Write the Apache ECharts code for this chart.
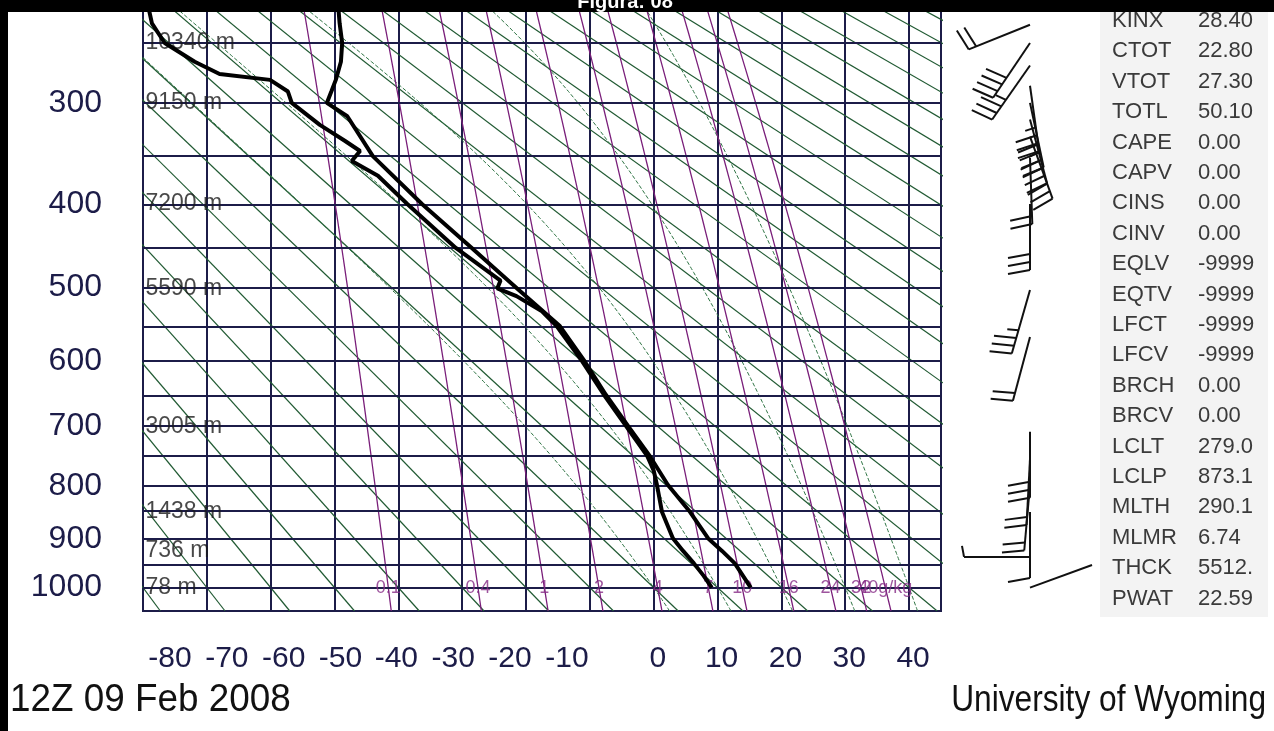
<!DOCTYPE html>
<html>
<head>
<meta charset="utf-8">
<title>Figura 08</title>
<script src="https://cdn.jsdelivr.net/npm/echarts@6/dist/echarts.min.js"></script>
<style>
  html, body { margin: 0; padding: 0; background: #fff; }
  #chart { width: 1274px; height: 731px; }
</style>
</head>
<body>
<div id="chart"></div>
<script>
// ------------------------------
// Sounding data
// ------------------------------
var tempP = [1000, 950, 925, 900, 850, 800, 750, 700, 650, 600, 550, 500, 450, 400, 350, 312, 300, 290, 280, 265, 250, 235, 218];
var tempC = [15.2, 12.7, 10.7, 8.5, 5.7, 2.2, -0.6, -4.0, -7.5, -10.8, -14.7, -21.4, -28.5, -36.3, -44.0, -48.0, -51.2, -50.5, -49.8, -49.0, -48.8, -49.2, -49.5];

var dewpP = [1000, 975, 950, 925, 900, 850, 800, 775, 750, 700, 650, 600, 550, 530, 510, 500, 490, 450, 400, 370, 355, 345, 335, 320, 300, 290, 280, 275, 265, 250, 235, 218];
var dewpC = [9.1, 7.8, 6.3, 4.6, 3.0, 1.3, 0.5, 0.0, -1.0, -4.3, -7.8, -11.2, -15.2, -17.5, -21.5, -24.5, -24.0, -31.0, -38.6, -43.2, -47.3, -46.0, -48.4, -52.3, -56.7, -57.3, -60.1, -68.0, -71.9, -76.6, -78.6, -79.4];

// wind: pressure (hPa), direction (deg), speed (kt)
var windP   = [1000, 937, 850, 800, 755, 709, 565, 502, 400, 352, 331, 315, 300, 285, 268, 250, 236];
var windDir = [70, 270, 180, 185, 183, 180, 195, 196, 180, 178, 160, 165, 168, 172, 215, 214, 248];
var windSpd = [2, 5, 10, 20, 20, 30, 20, 35, 30, 20, 30, 45, 40, 35, 35, 40, 20];

// diagram furniture
var isobars = [250, 300, 350, 400, 450, 500, 550, 600, 650, 700, 750, 800, 850, 900, 950, 1000];
var pressureLabels = [300, 400, 500, 600, 700, 800, 900, 1000];
var heightP = [250, 300, 400, 500, 700, 850, 925, 1000];
var heightLabels = ['10340 m', '9150 m', '7200 m', '5590 m', '3005 m', '1438 m', '736 m', '78 m'];
var tempTicks = [-80, -70, -60, -50, -40, -30, -20, -10, 0, 10, 20, 30, 40];
var mixRatios = [0.1, 0.4, 1, 2, 4, 7, 10, 16, 24, 32, 40];
var mixLabels = ['0.1', '0.4', '1', '2', '4', '7', '10', '16', '24', '32', '40g/kg'];
var moistStart = [0, 10, 20, 30, 40];

var indexNames  = ['KINX', 'CTOT', 'VTOT', 'TOTL', 'CAPE', 'CAPV', 'CINS', 'CINV', 'EQLV', 'EQTV',
                   'LFCT', 'LFCV', 'BRCH', 'BRCV', 'LCLT', 'LCLP', 'MLTH', 'MLMR', 'THCK', 'PWAT'];
var indexValues = ['28.40', '22.80', '27.30', '50.10', '0.00', '0.00', '0.00', '0.00', '-9999', '-9999',
                   '-9999', '-9999', '0.00', '0.00', '279.0', '873.1', '290.1', '6.74', '5512.', '22.59'];

// ------------------------------
// Stuve helpers: y axis runs in p^kappa
// ------------------------------
var KAPPA = 0.286;
var P_TOP = 218, P_BOTTOM = 1050;
function kp(p) { return Math.pow(p, KAPPA); }

var NAVY = '#1c1c48';
var FONT = '"Liberation Sans", Arial, sans-serif';

// plot frame (px) and temperature range
var FRAME_L = 143, FRAME_W = 798, T_MIN = -80, T_MAX = 45;
var PX_PER_DEG = FRAME_W / (T_MAX - T_MIN);

function pairs(ps, ts) {
    return ps.map(function (p, i) { return [ts[i], kp(p)]; });
}

var fineP = [];
for (var pp = P_BOTTOM; pp >= P_TOP - 10; pp -= 10) fineP.push(pp);

function dryLine(thetaK) {
    return [P_BOTTOM, P_TOP - 10].map(function (p) {
        return [thetaK * Math.pow(p / 1000, KAPPA) - 273.15, kp(p)];
    });
}
function mixTemp(w, p) {
    var e = w * p / (622 + w);
    var a = Math.log(e / 6.112);
    return 243.5 * a / (17.67 - a);
}
function mixLine(w) {
    return fineP.map(function (p) { return [mixTemp(w, p), kp(p)]; });
}
function moistGrad(T, p) {
    var es = 6.112 * Math.exp(17.67 * (T - 273.15) / (T - 29.65));
    var rs = 0.622 * es / (p - es);
    return (287.04 * T + 2.501e6 * rs) / (p * (1005.7 + 2.501e6 * 2.501e6 * rs * 0.622 / (287.04 * T * T)));
}
function moistLine(t0) {
    var up = [], down = [], T = t0 + 273.15, p, k1, k2;
    for (p = 1000; p >= P_TOP - 10; p -= 5) {
        up.push([T - 273.15, kp(p)]);
        k1 = moistGrad(T, p); k2 = moistGrad(T - 5 * k1, p - 5);
        T -= 2.5 * (k1 + k2);
    }
    T = t0 + 273.15;
    for (p = 1000; p < P_BOTTOM; p += 5) {
        k1 = moistGrad(T, p); k2 = moistGrad(T + 5 * k1, p + 5);
        T += 2.5 * (k1 + k2);
        down.unshift([T - 273.15, kp(p + 5)]);
    }
    return down.concat(up);
}

// the temperature labels of the original are packed tighter on the cold side
var labelRich = {};
tempTicks.forEach(function (v) {
    var at = FRAME_L + (v - T_MIN) * PX_PER_DEG;
    var want = v < 0 ? 170 + (v - T_MIN) / 10 * 56.7 : at + 4;
    var s = Math.round(want - at);
    labelRich['t' + (v + 100)] = {
        fontSize: 30, color: NAVY, fontFamily: FONT,
        padding: s >= 0 ? [0, 0, 0, 2 * s] : [0, -2 * s, 0, 0]
    };
});

var series = [];

// dry adiabats every 10 K
for (var th = 193.15; th <= 493.15; th += 10) {
    series.push({
        type: 'line', silent: true, symbol: 'none', z: 1,
        lineStyle: { color: '#215a33', width: 1.2 },
        data: dryLine(th)
    });
}
// saturated adiabats
moistStart.forEach(function (t0) {
    series.push({
        type: 'line', silent: true, symbol: 'none', z: 1,
        lineStyle: { color: '#2f7444', width: 1, type: [4, 2] },
        data: moistLine(t0)
    });
});
// mixing ratio lines
mixRatios.forEach(function (w) {
    series.push({
        type: 'line', silent: true, symbol: 'none', z: 2,
        lineStyle: { color: '#7a1f7a', width: 1.3 },
        data: mixLine(w)
    });
});
// mixing ratio labels at 1000 hPa
series.push({
    type: 'scatter', silent: true, symbolSize: 1, z: 6,
    itemStyle: { color: 'rgba(0,0,0,0)' },
    label: { show: true, position: 'inside', color: '#862a86', fontSize: 18, fontFamily: FONT },
    data: mixRatios.map(function (w, i) {
        return { value: [mixTemp(w, 1000), kp(1000)], label: { formatter: mixLabels[i] } };
    })
});
// isobars with pressure labels
series.push({
    type: 'line', silent: true, symbol: 'none', z: 3, data: [],
    markLine: {
        silent: true, symbol: ['none', 'none'], animation: false,
        lineStyle: { color: NAVY, width: 2, type: 'solid' },
        data: isobars.map(function (p) {
            var lab = pressureLabels.indexOf(p) >= 0;
            return {
                yAxis: kp(p),
                label: {
                    show: lab, position: 'start', distance: 41, formatter: String(p),
                    color: NAVY, fontSize: 32, fontFamily: FONT
                }
            };
        })
    }
});
// height labels
series.push({
    type: 'scatter', silent: true, symbolSize: 1, z: 6,
    itemStyle: { color: 'rgba(0,0,0,0)' },
    label: { show: true, position: 'right', distance: 2, color: '#1a1a1a', fontSize: 23, fontFamily: FONT },
    data: heightP.map(function (p, i) {
        return { value: [T_MIN, kp(p)], label: { formatter: heightLabels[i] } };
    })
});
// sounding
series.push({
    name: 'Temperature', type: 'line', symbol: 'none', z: 10,
    lineStyle: { color: '#000', width: 4 },
    data: pairs(tempP, tempC)
});
series.push({
    name: 'Dewpoint', type: 'line', symbol: 'none', z: 10,
    lineStyle: { color: '#000', width: 4 },
    data: pairs(dewpP, dewpC)
});
// wind barbs
series.push({
    type: 'custom', xAxisIndex: 1, yAxisIndex: 1, clip: false, silent: true, z: 10,
    data: windP.map(function (p, i) { return ['wind', kp(p), windDir[i], windSpd[i]]; }),
    encode: { x: 0, y: 1 },
    renderItem: function (params, api) {
        var o = api.coord([api.value(0), api.value(1)]);
        var d = api.value(2) * Math.PI / 180, s = api.value(3);
        var ux = Math.sin(d), uy = -Math.cos(d);
        var bx = Math.cos(d), by = Math.sin(d);
        var L = 66, full = 22, gap = 8;
        var tip = [o[0] + ux * L, o[1] + uy * L];
        var kids = [{ type: 'line', shape: { x1: o[0], y1: o[1], x2: tip[0], y2: tip[1] } }];
        var pos = 0, left = Math.round(s / 5) * 5;
        while (left >= 10) {
            var a = [tip[0] - ux * pos, tip[1] - uy * pos];
            kids.push({ type: 'line', shape: { x1: a[0], y1: a[1], x2: a[0] + bx * full + ux * 4, y2: a[1] + by * full + uy * 4 } });
            pos += gap; left -= 10;
        }
        if (left >= 5) {
            var h = [tip[0] - ux * pos, tip[1] - uy * pos];
            kids.push({ type: 'line', shape: { x1: h[0], y1: h[1], x2: h[0] + bx * full / 2 + ux * 2, y2: h[1] + by * full / 2 + uy * 2 } });
        }
        kids.forEach(function (k) { k.style = { stroke: '#111', lineWidth: 2 }; });
        return { type: 'group', children: kids };
    }
});

var graphics = [
    { type: 'rect', shape: { x: 1100, y: 12, width: 168, height: 605 }, style: { fill: '#f3f3f3' }, z: -1 },
    { type: 'rect', shape: { x: 0, y: 0, width: 1274, height: 12 }, style: { fill: '#000' }, z: 100 },
    { type: 'rect', shape: { x: 0, y: 0, width: 8, height: 731 }, style: { fill: '#000' }, z: 100 },
    { type: 'text', x: 625, y: 12, z: 101, style: { text: 'Figura: 08', fill: '#fff', font: 'bold 20px ' + FONT, textAlign: 'center', textVerticalAlign: 'bottom' } },
    { type: 'text', x: 10, y: 701, scaleX: 0.97, z: 101, style: { text: '12Z 09 Feb 2008', fill: '#111', font: '38px ' + FONT, textAlign: 'left', textVerticalAlign: 'middle' } },
    { type: 'text', x: 1266, y: 701, scaleX: 0.88, z: 101, style: { text: 'University of Wyoming', fill: '#111', font: '36px ' + FONT, textAlign: 'right', textVerticalAlign: 'middle' } }
];
indexNames.forEach(function (n, i) {
    var y = 21 + i * 30.4;
    graphics.push({ type: 'text', x: 1112, y: y, style: { text: n, fill: '#3a3a3a', font: '22px ' + FONT, textVerticalAlign: 'middle' } });
    graphics.push({ type: 'text', x: 1198, y: y, style: { text: indexValues[i], fill: '#3a3a3a', font: '22px ' + FONT, textVerticalAlign: 'middle' } });
});

var chart = echarts.init(document.getElementById('chart'));
var option = {
    animation: false,
    backgroundColor: '#fff',
    grid: [
        { left: FRAME_L, top: 0, width: FRAME_W, height: 611, show: true, borderColor: NAVY, borderWidth: 2, backgroundColor: '#fff' },
        { left: 990, top: 0, width: 80, height: 611 }
    ],
    xAxis: [
        {
            gridIndex: 0, type: 'value', min: T_MIN, max: T_MAX, interval: 10,
            axisLine: { show: false }, axisTick: { show: false },
            axisLabel: {
                showMaxLabel: false, margin: 33,
                formatter: function (v) { return '{t' + (v + 100) + '|' + v + '}'; },
                rich: labelRich
            },
            splitLine: { show: true, lineStyle: { color: NAVY, width: 2 } }
        },
        { gridIndex: 1, type: 'category', data: ['wind'], show: false }
    ],
    yAxis: [
        { gridIndex: 0, type: 'value', inverse: true, min: kp(P_TOP), max: kp(P_BOTTOM), show: false },
        { gridIndex: 1, type: 'value', inverse: true, min: kp(P_TOP), max: kp(P_BOTTOM), show: false }
    ],
    graphic: graphics,
    series: series
};
chart.setOption(option);
</script>
</body>
</html>
